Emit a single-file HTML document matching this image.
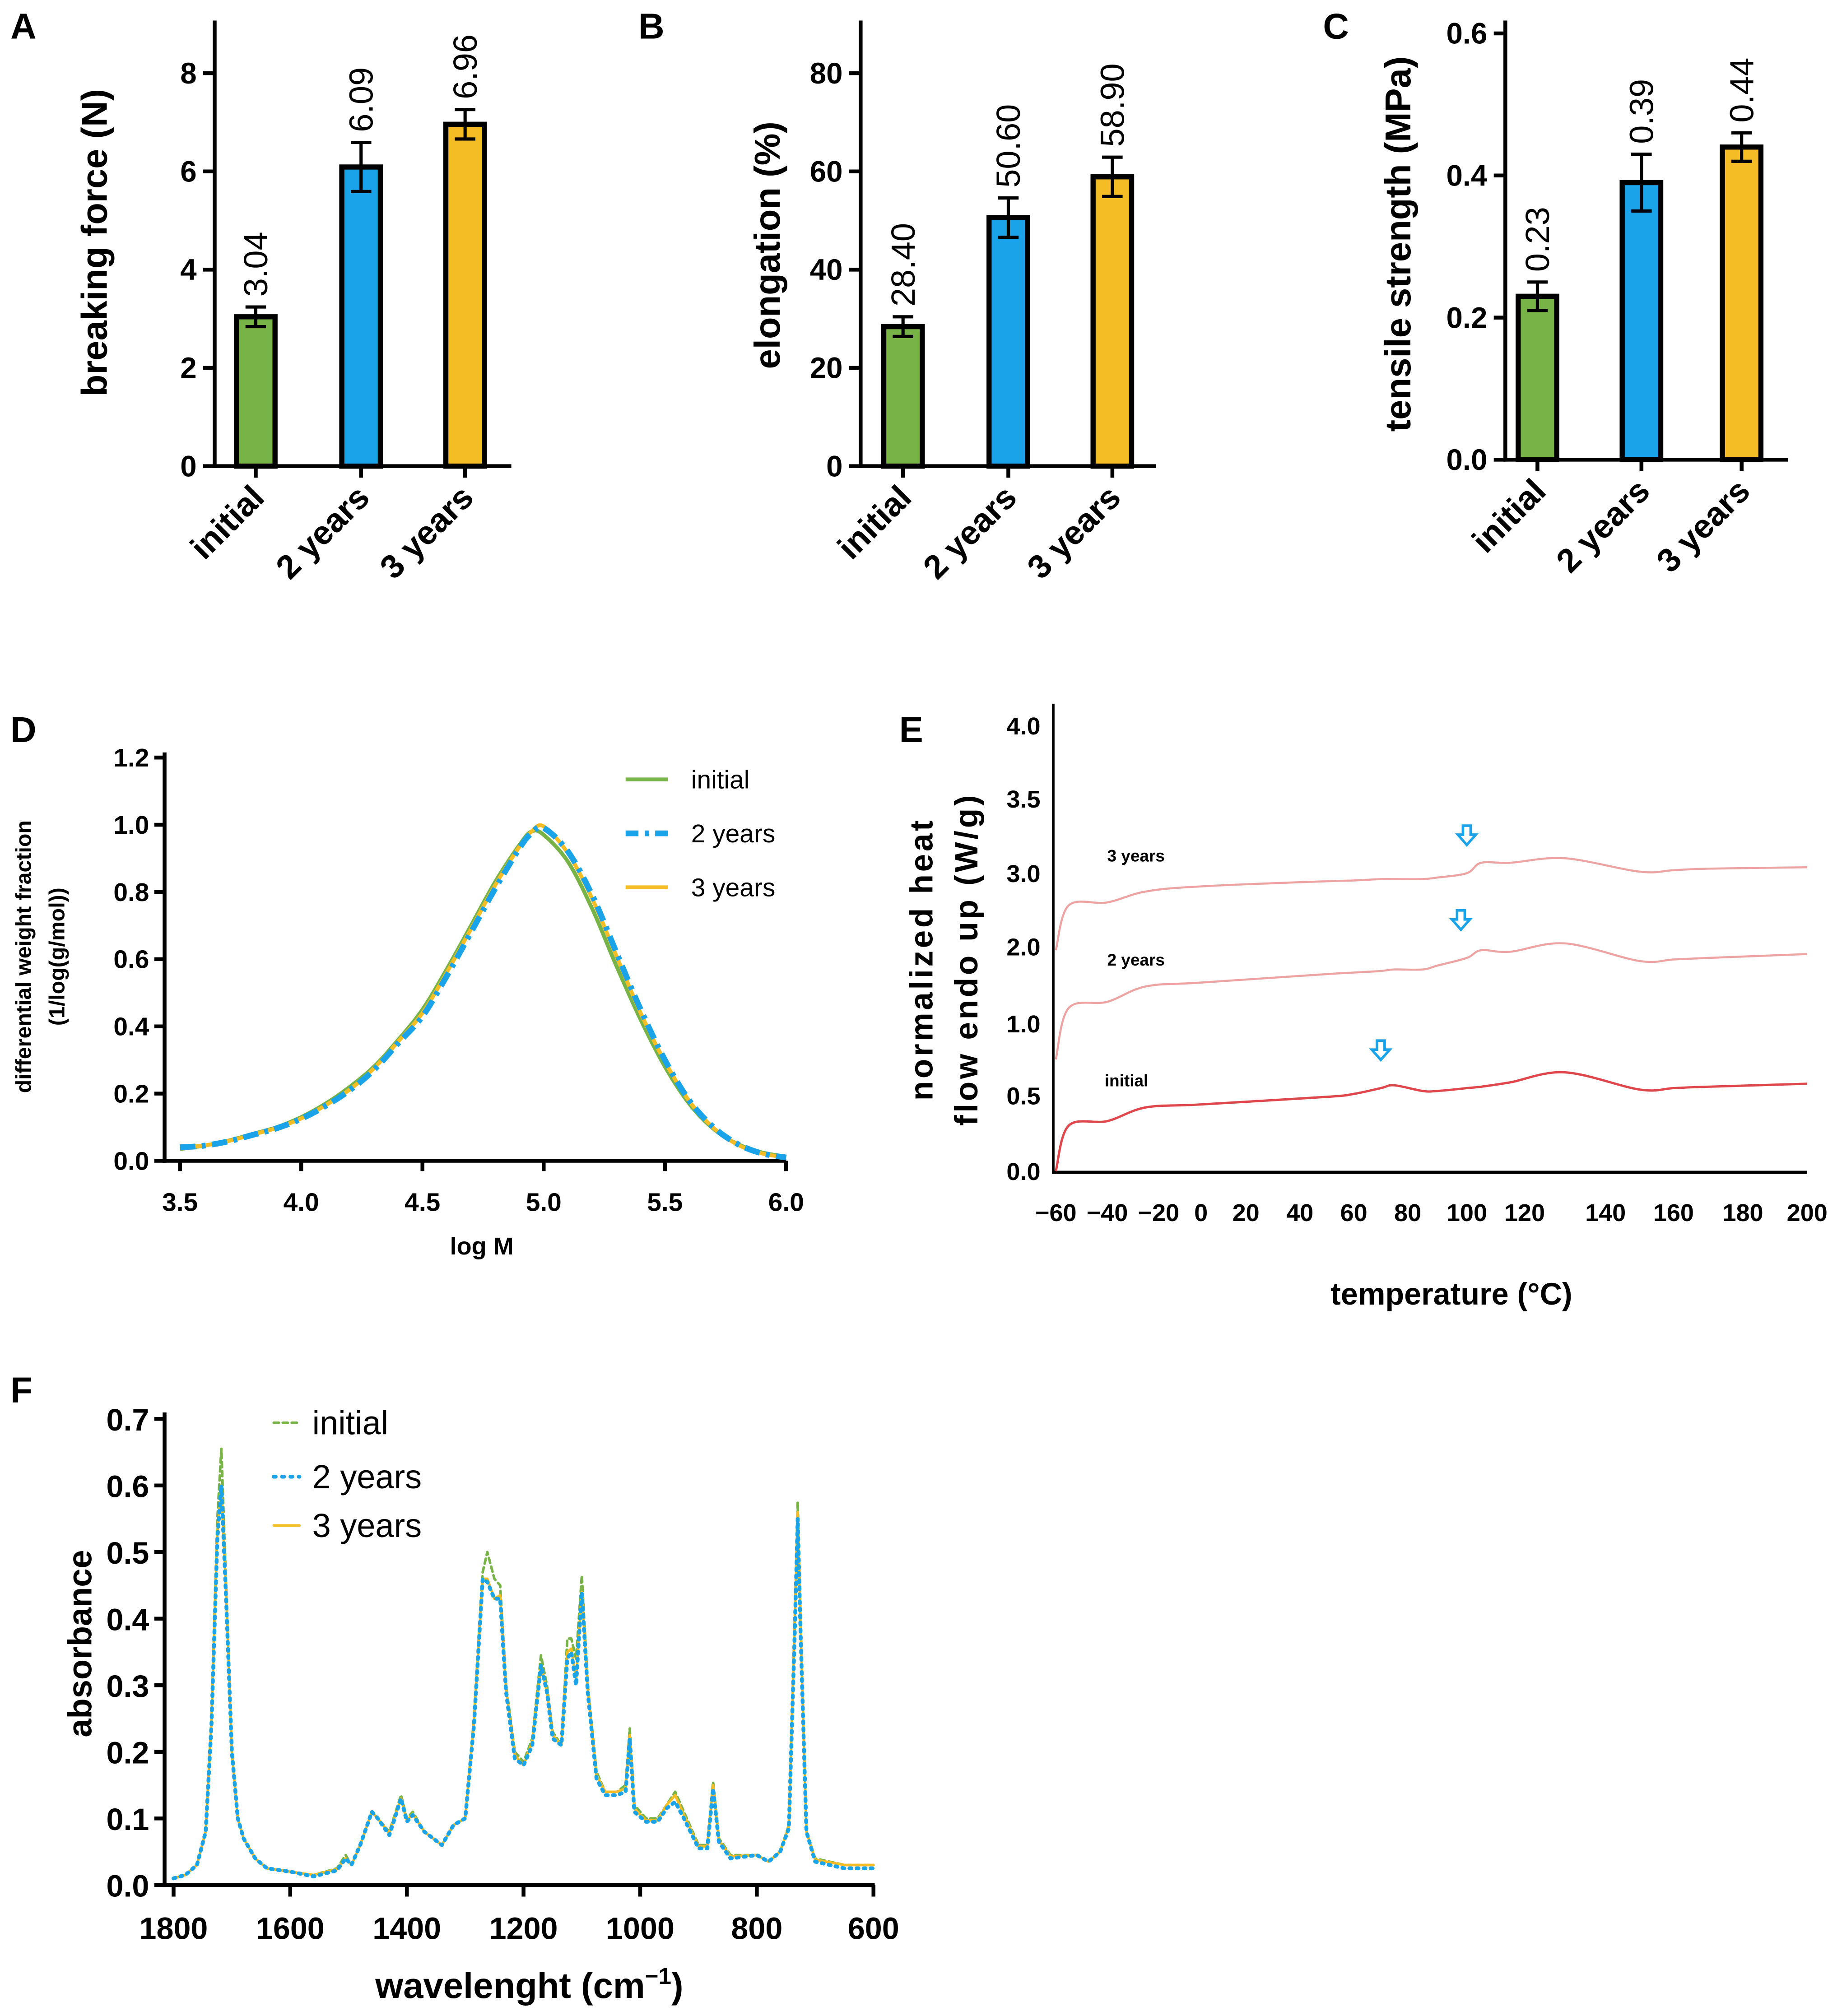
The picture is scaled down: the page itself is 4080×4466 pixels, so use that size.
<!DOCTYPE html>
<html><head><meta charset="utf-8"><style>
html,body{margin:0;padding:0;background:#fff}
svg{display:block}
text{font-family:"Liberation Sans",Arial,sans-serif;fill:#000}
.b{font-weight:bold}
</style></head><body>
<svg id="fig" width="4080" height="4466" viewBox="0 0 1434 1570" xmlns="http://www.w3.org/2000/svg">
<rect width="1434" height="1570" fill="#fff"/>
</svg>
<script>
// ---------- data ----------
const barCats = ["initial","2 years","3 years"];
const barColors = ["#78b348","#1aa3e8","#f5bd25"];
const forceVals = [3.04,6.09,6.96];
const forceErr = [0.2,0.5,0.3];
const forceLabels = ["3.04","6.09","6.96"];
const elongVals = [28.4,50.6,58.9];
const elongErr = [2,4,4];
const elongLabels = ["28.40","50.60","58.90"];
const tensVals = [0.23,0.39,0.44];
const tensErr = [0.02,0.04,0.02];
const tensLabels = ["0.23","0.39","0.44"];

const gpcX = [3.5,3.6,3.7,3.8,3.9,4.0,4.1,4.2,4.3,4.4,4.5,4.6,4.7,4.8,4.9,4.95,5.0,5.1,5.2,5.3,5.4,5.5,5.6,5.7,5.8,5.9,6.0];
const gpcInitial = [0.035,0.045,0.06,0.08,0.10,0.13,0.17,0.22,0.28,0.36,0.45,0.57,0.70,0.83,0.94,0.98,0.97,0.89,0.75,0.58,0.42,0.28,0.17,0.095,0.05,0.025,0.012];
const gpc2y = [0.04,0.045,0.058,0.077,0.097,0.125,0.163,0.21,0.27,0.35,0.43,0.55,0.68,0.81,0.93,0.975,0.99,0.92,0.79,0.62,0.45,0.30,0.18,0.10,0.05,0.022,0.01];
const gpc3y = [0.04,0.046,0.059,0.078,0.098,0.126,0.165,0.212,0.275,0.355,0.44,0.56,0.69,0.82,0.935,0.98,0.995,0.915,0.78,0.61,0.44,0.295,0.178,0.098,0.048,0.022,0.01];

const dscT = [-60,-55,-40,-25,0,50,60,70,75,85,90,100,105,115,130,150,160,170,200];
const dscInitial = [0.0,0.30,0.33,0.42,0.44,0.49,0.51,0.55,0.57,0.53,0.53,0.55,0.56,0.59,0.66,0.54,0.55,0.56,0.58];
const dsc2y = [0.75,1.2,1.28,1.48,1.53,1.64,1.66,1.68,1.70,1.70,1.75,1.85,1.95,1.93,2.04,1.81,1.83,1.85,1.90];
const dsc3y = [1.95,2.56,2.60,2.75,2.82,2.89,2.90,2.92,2.92,2.92,2.94,3.0,3.07,3.07,3.10,3.01,3.02,3.03,3.04];
const dscTicksX = [-60,-40,-20,0,20,40,60,80,100,120,140,160,180,200];
const dscTicksY = [0.0,0.5,1.0,2.0,3.0,3.5,4.0];
const dscTickYLabels = ["0.0","0.5","1.0","2.0","3.0","3.5","4.0"];

const ftirW = [1800,1780,1760,1745,1735,1725,1718,1710,1700,1690,1680,1660,1640,1600,1560,1520,1505,1495,1480,1460,1450,1430,1410,1400,1390,1370,1340,1320,1300,1285,1270,1262,1250,1240,1230,1215,1200,1185,1170,1160,1150,1135,1125,1118,1110,1100,1090,1075,1060,1040,1025,1018,1010,990,970,955,940,925,900,885,875,865,845,800,780,760,745,735,730,725,715,700,650,600];
const ftirInitial = [0.01,0.015,0.03,0.08,0.25,0.55,0.655,0.45,0.2,0.1,0.07,0.04,0.025,0.02,0.015,0.025,0.045,0.03,0.06,0.11,0.10,0.08,0.135,0.10,0.11,0.08,0.06,0.09,0.10,0.25,0.47,0.50,0.46,0.45,0.30,0.20,0.185,0.22,0.345,0.30,0.23,0.21,0.37,0.37,0.34,0.465,0.30,0.17,0.14,0.14,0.15,0.235,0.12,0.10,0.10,0.12,0.14,0.11,0.06,0.06,0.155,0.07,0.045,0.045,0.035,0.05,0.09,0.40,0.575,0.40,0.08,0.04,0.03,0.03];
const ftir2y = [0.01,0.015,0.03,0.08,0.24,0.52,0.60,0.43,0.2,0.1,0.07,0.04,0.025,0.02,0.013,0.022,0.04,0.03,0.06,0.11,0.10,0.075,0.13,0.095,0.105,0.08,0.06,0.09,0.10,0.24,0.46,0.455,0.43,0.43,0.29,0.19,0.18,0.21,0.33,0.29,0.22,0.21,0.34,0.35,0.30,0.44,0.29,0.16,0.135,0.135,0.14,0.22,0.11,0.095,0.095,0.115,0.125,0.10,0.055,0.055,0.145,0.065,0.04,0.045,0.035,0.05,0.085,0.38,0.55,0.38,0.08,0.035,0.025,0.025];
const ftir3y = [0.01,0.015,0.03,0.08,0.245,0.53,0.595,0.44,0.2,0.1,0.07,0.04,0.025,0.02,0.015,0.024,0.04,0.03,0.06,0.11,0.10,0.078,0.13,0.097,0.107,0.08,0.06,0.09,0.10,0.245,0.46,0.46,0.43,0.435,0.295,0.195,0.18,0.215,0.33,0.29,0.225,0.21,0.35,0.355,0.31,0.44,0.295,0.165,0.14,0.14,0.145,0.225,0.115,0.097,0.097,0.12,0.135,0.105,0.058,0.058,0.15,0.067,0.043,0.045,0.035,0.05,0.088,0.39,0.56,0.39,0.08,0.038,0.03,0.03];

// ---------- helpers ----------
const svg = document.getElementById('fig');
const NS = 'http://www.w3.org/2000/svg';
function mk(tag, attrs, parent) {
  const e = document.createElementNS(NS, tag);
  for (const k in attrs) e.setAttribute(k, attrs[k]);
  (parent || svg).appendChild(e);
  return e;
}
function txt(s, x, y, size, opts, parent) {
  const a = Object.assign({x:x, y:y, 'font-size':size}, opts || {});
  const e = mk('text', a, parent);
  e.textContent = s;
  return e;
}
function line(x1,y1,x2,y2,w,col,parent){return mk('line',{x1,y1,x2,y2,stroke:col||'#000','stroke-width':w||2.5},parent);}
function smoothPath(pts){
  let d = 'M' + pts[0][0].toFixed(1) + ',' + pts[0][1].toFixed(1);
  for (let i = 0; i < pts.length - 1; i++) {
    const p0 = pts[Math.max(0,i-1)], p1 = pts[i], p2 = pts[i+1], p3 = pts[Math.min(pts.length-1,i+2)];
    const c1x = p1[0] + (p2[0]-p0[0])/6, c1y = p1[1] + (p2[1]-p0[1])/6;
    const c2x = p2[0] - (p3[0]-p1[0])/6, c2y = p2[1] - (p3[1]-p1[1])/6;
    d += `C${c1x.toFixed(1)},${c1y.toFixed(1)} ${c2x.toFixed(1)},${c2y.toFixed(1)} ${p2[0].toFixed(1)},${p2[1].toFixed(1)}`;
  }
  return d;
}

// ---------- bar panels ----------
function barPanel(cfg) {
  const g = mk('g', {});
  
  
  const y = v => cfg.y0 - (v - 0) / cfg.max * (cfg.y0 - cfg.yTop);
  const L = txt(cfg.letter, cfg.lx, 30, 28, {class:'b'}, g);
  
  
  const ya = line(cfg.ax, 16, cfg.ax, cfg.y0 + 1.5, 3, '#000', g);
  
  
  const xa = line(cfg.ax - 1.5, cfg.y0, cfg.axEnd, cfg.y0, 3, '#000', g);
  
  
  cfg.ticks.forEach((t, i) => {
    line(cfg.ax - 9, y(t), cfg.ax, y(t), 3, '#000', g);
    const tl = txt(cfg.tickLabels[i], cfg.ax - 14, y(t) + 8, 23, {class:'b','text-anchor':'end'}, g);
    
    
  });
  const at = txt(cfg.title, 0, 0, 28, {class:'b','text-anchor':'middle', transform:`translate(${cfg.titleX},${cfg.titleY}) rotate(-90)`}, g);
  
  
  cfg.vals.forEach((v, i) => {
    const cx = cfg.centers[i], w = 30;
    const r = mk('rect', {x:cx - w/2, y:y(v), width:w, height:cfg.y0 - y(v), fill:barColors[i], stroke:'#000','stroke-width':4}, g);
    
    
    const hi = y(v + cfg.err[i]), lo = y(v - cfg.err[i]);
    const eb = mk('path', {d:`M${cx},${hi}V${lo}M${cx-8},${hi}H${cx+8}M${cx-8},${lo}H${cx+8}`, stroke:'#000','stroke-width':2.5, fill:'none'}, g);
    
    
    const vl = txt(cfg.labels[i], 0, 0, 26, {transform:`translate(${cx + 9},${hi - 8}) rotate(-90)`}, g);
    
    
    line(cx, cfg.y0, cx, cfg.y0 + 9, 3, '#000', g);
    const cl = txt(barCats[i], 0, 0, 26, {class:'b','text-anchor':'end', transform:`translate(${cx + 8},${cfg.y0 + 26}) rotate(-45)`}, g);
    
    
  });
}
barPanel({name:'panel-a-breaking-force', letter:'A', lx:8, ax:167, axEnd:398, y0:363, yTop:57, max:8, ticks:[0,2,4,6,8], tickLabels:['0','2','4','6','8'], centers:[199,281,362], vals:forceVals, err:forceErr, labels:forceLabels, title:'breaking force (N)', titleX:83, titleY:189});
barPanel({name:'panel-b-elongation', letter:'B', lx:497, ax:670, axEnd:900, y0:363, yTop:57, max:80, ticks:[0,20,40,60,80], tickLabels:['0','20','40','60','80'], centers:[703,785,866], vals:elongVals, err:elongErr, labels:elongLabels, title:'elongation (%)', titleX:607, titleY:191});
barPanel({name:'panel-c-tensile-strength', letter:'C', lx:1030, ax:1172, axEnd:1392, y0:358, yTop:26, max:0.6, ticks:[0,0.2,0.4,0.6], tickLabels:['0.0','0.2','0.4','0.6'], centers:[1197,1278,1356], vals:tensVals, err:tensErr, labels:tensLabels, title:'tensile strength (MPa)', titleX:1098, titleY:190});

// ---------- panel D ----------
(function(){
  const g = mk('g', {});
  
  
  const xs = v => 140 + (v - 3.5) * 188.8;
  const ys = v => 904 - v * 261.7;
  const L = txt('D', 8, 578, 28, {class:'b'}, g);
  
  
  line(128, 586, 128, 905.5, 3, '#000', g);
  line(126.5, 904, 612, 904, 3, '#000', g);
  [0,0.2,0.4,0.6,0.8,1.0,1.2].forEach(t => {
    line(120, ys(t), 128, ys(t), 3, '#000', g);
    const tl = txt(t.toFixed(1), 116, ys(t) + 7, 20, {class:'b','text-anchor':'end'}, g);
    
    
  });
  [3.5,4.0,4.5,5.0,5.5,6.0].forEach(t => {
    line(xs(t), 904, xs(t), 912, 3, '#000', g);
    const tl = txt(t.toFixed(1), xs(t), 943, 20, {class:'b','text-anchor':'middle'}, g);
    
    
  });
  const t1 = txt('differential weight fraction', 0, 0, 17, {class:'b','text-anchor':'middle', transform:'translate(24,745) rotate(-90)'}, g);
  
  
  const t2 = txt('(1/log(g/mol))', 0, 0, 17, {class:'b','text-anchor':'middle', transform:'translate(50,745) rotate(-90)'}, g);
  
  
  const xt = txt('log M', 375, 977, 19, {class:'b','text-anchor':'middle'}, g);
  
  
  const series = [
    {n:'initial', d:gpcInitial, c:'#78b348', dash:'', w:3},
    {n:'2-years', d:gpc2y, c:'#1aa3e8', dash:'12 5 3 5', w:4.5},
    {n:'3-years', d:gpc3y, c:'#f5bd25', dash:'', w:3}
  ];
  [series[0], series[2], series[1]].forEach(s => {
    const p = mk('path', {d:smoothPath(gpcX.map((x,i) => [xs(x), ys(s.d[i])])), fill:'none', stroke:s.c, 'stroke-width':s.w, 'stroke-dasharray':s.dash, 'stroke-linejoin':'round'}, g);
    
    
  });
  const names = ['initial','2 years','3 years'];
  series.forEach((s, i) => {
    const ly = 607 + i * 42;
    const ll = line(487, ly, 520, ly, s.w, s.c, g);
    if (s.dash) ll.setAttribute('stroke-dasharray', '10 5 3 5');
    
    
    const lt = txt(names[i], 538, ly + 7, 20, {}, g);
    
    
  });
})();

// ---------- panel E ----------
(function(){
  const g = mk('g', {});
  
  
  const xk = [-60,-40,-20,0,20,40,60,80,100,120,140,160,180,200];
  const xp = [822,862,902,935,970,1012,1054,1096,1142,1187,1250,1303,1357,1407];
  const yk = [0,0.5,1,2,3,3.5,4];
  const yp = [912,853,797,737,680,622,565];
  function interp(v, k, p){
    for (let i = 0; i < k.length - 1; i++) if (v <= k[i+1] || i === k.length - 2) return p[i] + (v - k[i]) / (k[i+1] - k[i]) * (p[i+1] - p[i]);
  }
  const xs = v => interp(v, xk, xp);
  const ys = v => interp(v, yk, yp);
  const L = txt('E', 700, 578, 28, {class:'b'}, g);
  
  
  line(820, 548, 820, 914, 2, '#000', g);
  line(819, 913, 1407, 913, 2.5, '#000', g);
  dscTicksY.forEach((t, i) => {
    const tl = txt(dscTickYLabels[i], 810, ys(t) + 7, 19, {class:'b','text-anchor':'end'}, g);
    
    
  });
  dscTicksX.forEach(t => {
    const tl = txt(t < 0 ? '\u2212' + (-t) : String(t), xs(t), 951, 19, {class:'b','text-anchor':'middle'}, g);
    
    
  });
  const t1 = txt('normalized heat', 0, 0, 25, {class:'b','text-anchor':'middle','letter-spacing':'2', transform:'translate(726,747) rotate(-90)'}, g);
  
  
  const t2 = txt('flow endo up (W/g)', 0, 0, 25, {class:'b','text-anchor':'middle','letter-spacing':'2', transform:'translate(761,747) rotate(-90)'}, g);
  
  
  const xt = txt('temperature (\u00b0C)', 1130, 1016, 24, {class:'b','text-anchor':'middle'}, g);
  
  
  const series = [
    {n:'initial', d:dscInitial, c:'#e0474c', w:1.8, lab:'initial', lx:860, ly:846, arrowT:70},
    {n:'2-years', d:dsc2y, c:'#eea3a3', w:1.6, lab:'2 years', lx:862, ly:752, arrowT:98},
    {n:'3-years', d:dsc3y, c:'#eea3a3', w:1.6, lab:'3 years', lx:862, ly:671, arrowT:100}
  ];
  series.forEach(s => {
    const p = mk('path', {d:smoothPath(dscT.map((t,i) => [xs(t), ys(s.d[i])])), fill:'none', stroke:s.c, 'stroke-width':s.w, 'stroke-linejoin':'round'}, g);
    
    
    const lt = txt(s.lab, s.lx, s.ly, 13, {class:'b'}, g);
    
    
    let idx = dscT.findIndex(t => t >= s.arrowT);
    const ax = xs(s.arrowT), ay = ys(s.d[idx]) - 30;
    const a = mk('path', {d:`M${ax-3},${ay-7}H${ax+3}V${ay}H${ax+7}L${ax},${ay+8}L${ax-7},${ay}H${ax-3}Z`, fill:'#fff', stroke:'#1aa3e8','stroke-width':2}, g);
    
    
  });
})();

// ---------- panel F ----------
(function(){
  const g = mk('g', {});
  
  
  const xs = v => 135 + (1800 - v) / 1200 * 545;
  const ys = v => 1468 - v / 0.7 * 363;
  const L = txt('F', 8, 1092, 28, {class:'b'}, g);
  
  
  line(128, 1100, 128, 1469.5, 3, '#000', g);
  line(126.5, 1468, 681, 1468, 3, '#000', g);
  [0,0.1,0.2,0.3,0.4,0.5,0.6,0.7].forEach(t => {
    line(120, ys(t), 128, ys(t), 3, '#000', g);
    const tl = txt(t.toFixed(1), 116, ys(t) + 9, 24, {class:'b','text-anchor':'end'}, g);
    
    
  });
  [1800,1600,1400,1200,1000,800,600].forEach(t => {
    line(xs(t), 1468, xs(t), 1477, 3, '#000', g);
    const tl = txt(String(t), xs(t), 1510, 24, {class:'b','text-anchor':'middle'}, g);
    
    
  });
  const yt = txt('absorbance', 0, 0, 26, {class:'b','text-anchor':'middle', transform:'translate(71,1280) rotate(-90)'}, g);
  
  
  const xt = mk('text', {x:412, y:1556, 'font-size':28, class:'b', 'text-anchor':'middle'}, g);
  xt.innerHTML = 'wavelenght (cm<tspan dy="-11" font-size="18">\u22121</tspan><tspan dy="11">)</tspan>';
  
  
  const series = [
    {n:'initial', d:ftirInitial, c:'#78b348', dash:'4 3', w:2},
    {n:'3-years', d:ftir3y, c:'#f5bd25', dash:'', w:2},
    {n:'2-years', d:ftir2y, c:'#1aa3e8', dash:'1.5 4', w:3}
  ];
  series.forEach(s => {
    const p = mk('path', {d:'M' + ftirW.map((w,i) => xs(w).toFixed(1) + ',' + ys(s.d[i]).toFixed(1)).join('L'), fill:'none', stroke:s.c, 'stroke-width':s.w, 'stroke-dasharray':s.dash, 'stroke-linecap':'round', 'stroke-linejoin':'round'}, g);
    
    
  });
  const leg = [['initial','#78b348','4 3',2],['2 years','#1aa3e8','1.5 5',3],['3 years','#f5bd25','',2]];
  const lys = [1108,1150,1188];
  leg.forEach((l, i) => {
    const sw = line(213, lys[i], 233, lys[i], l[3], l[1], g);
    if (l[2]) sw.setAttribute('stroke-dasharray', l[2]);
    sw.setAttribute('stroke-linecap', 'round');
    
    
    const lt = txt(l[0], 243, lys[i] + 9, 26, {}, g);
    
    
  });
})();
</script>
</body></html>
